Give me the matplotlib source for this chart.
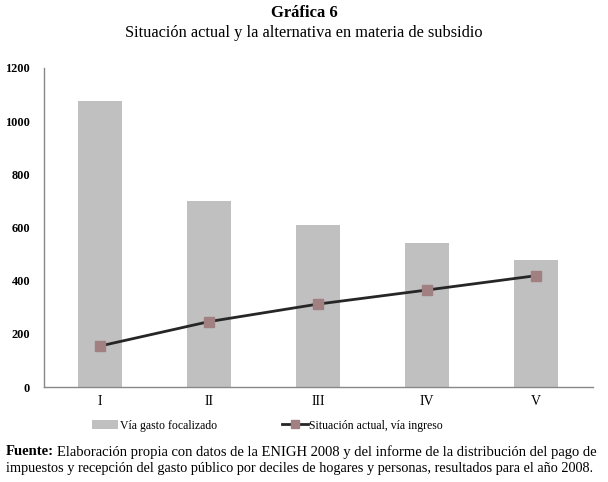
import numpy as np
import matplotlib
matplotlib.use("Agg")
import matplotlib.pyplot as plt
from matplotlib.lines import Line2D
from matplotlib.patches import Patch

deciles = ["I", "II", "III", "IV", "V"]
via_gasto = [1076, 700, 609, 540, 478]
situacion_actual = [154, 246, 312, 365, 419]
yticks = [0, 200, 400, 600, 800, 1000, 1200]

plt.rcParams['font.family'] = ['Liberation Serif', 'DejaVu Serif']

fig = plt.figure(figsize=(6.08, 4.82), dpi=100)
ax = fig.add_axes([0.0724, 0.197, 0.903, 0.662])

x = np.arange(len(deciles))
ax.bar(x, via_gasto, width=0.4, color="#c0c0c0", zorder=1)
ax.plot(x, situacion_actual, color="#262626", lw=2, marker="s", ms=6.5,
        markerfacecolor="#a08080", markeredgecolor="#a08080", zorder=3)

ax.set_xlim(-0.51, 4.52)
ax.set_ylim(0, 1200)
ax.set_yticks(yticks)
ax.set_yticklabels([str(v) for v in yticks], fontsize=8.8, fontweight="bold")
ax.set_xticks(x)
ax.set_xticklabels(deciles, fontsize=10)
ax.tick_params(axis="both", length=0, pad=6)
ax.tick_params(axis="y", pad=10)
for s in ["top", "right"]:
    ax.spines[s].set_visible(False)
for s in ["left", "bottom"]:
    ax.spines[s].set_color("#888888")
    ax.spines[s].set_linewidth(1)

fig.text(0.5, 0.972, "Gráfica 6", ha="center", va="center", fontsize=12, fontweight="bold")
fig.text(0.5, 0.931, "Situación actual y la alternativa en materia de subsidio",
         ha="center", va="center", fontsize=11.8)

handles = [Patch(facecolor="#c0c0c0", edgecolor="none"),
           Line2D([0], [0], color="#262626", lw=2, marker="s", ms=6,
                  markerfacecolor="#a08080", markeredgecolor="#a08080")]
fig.legend(handles, ["Vía gasto focalizado", "Situación actual, vía ingreso"],
           loc="center", bbox_to_anchor=(0.44, 0.117), ncol=2, frameon=False,
           fontsize=8.5, handlelength=2.2, handletextpad=0.1, columnspacing=5.5)

# footnote, bold "Fuente:" then the rest
fig.canvas.draw()
r = fig.canvas.get_renderer()
t = fig.text(0.01, 0.063, "Fuente:", ha="left", va="center", fontsize=10.5, fontweight="bold")
bb = t.get_window_extent(renderer=r)
x2 = bb.x1 / fig.bbox.width + 0.004
fig.text(x2, 0.063,
         "Elaboración propia con datos de la ENIGH 2008 y del informe de la distribución del pago de",
         ha="left", va="center", fontsize=10.5)
fig.text(0.01, 0.027,
         "impuestos y recepción del gasto público por deciles de hogares y personas, resultados para el año 2008.",
         ha="left", va="center", fontsize=10.3)

fig.savefig("out.png", dpi=100)
